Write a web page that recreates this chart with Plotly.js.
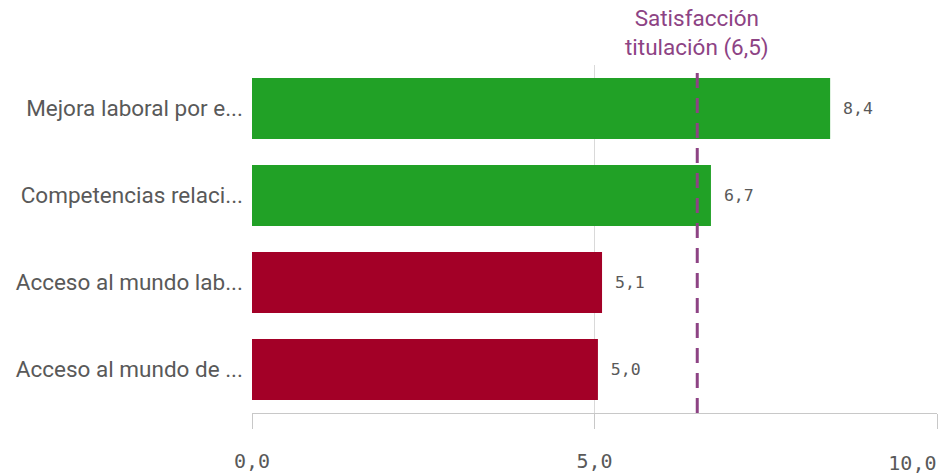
<!DOCTYPE html>
<html>
<head>
<meta charset="utf-8">
<script src="https://cdn.plot.ly/plotly-3.0.1.min.js"></script>
<style>html,body{margin:0;padding:0;background:#fff;}#chart{width:941px;height:476px;}</style>
</head>
<body>
<div id="chart"></div>
<script>
const categories = ["Mejora laboral por e...", "Competencias relaci...", "Acceso al mundo lab...", "Acceso al mundo de ..."];
const values = [8.44, 6.70, 5.11, 5.05];
const barColors = ["#21a126", "#21a126", "#a30027", "#a30027"];
const tickValues = [0, 5, 10];
const tickLabels = ["0,0", "5,0", ""];
const endTickValues = [10];
const endTickLabels = ["10,0"];
const refValue = 6.5;
const refLabel = "Satisfacción<br>titulación (6,5)";

const fmt = v => "\u00a0" + v.toFixed(1).replace(".", ",");

const trace = {
  type: "bar",
  orientation: "h",
  y: categories,
  x: values,
  marker: {color: barColors},
  width: 0.7,
  text: values.map(fmt),
  textposition: "outside",
  textfont: {family: "DejaVu Sans Mono", size: 16.5, color: "#595959"},
  cliponaxis: false,
  hoverinfo: "none"
};

const helper = {
  type: "scatter", mode: "markers",
  x: [], y: [], xaxis: "x2", yaxis: "y",
  hoverinfo: "none", showlegend: false
};

const tickFont = {family: "DejaVu Sans Mono", size: 20, color: "#595959"};

const layout = {
  width: 941, height: 476,
  margin: {l: 252, r: 4, t: 65, b: 63},
  paper_bgcolor: "#fff", plot_bgcolor: "#fff",
  showlegend: false,
  bargap: 0.3,
  xaxis: {
    range: [0, 10],
    tickvals: tickValues, ticktext: tickLabels,
    showgrid: true, gridcolor: "#d9d9d9", gridwidth: 1,
    zeroline: false,
    showline: true, linecolor: "#c8c8c8", linewidth: 1,
    ticks: "outside", ticklen: 15, tickcolor: "#c8c8c8", tickwidth: 1,
    ticklabelstandoff: 15,
    tickfont: tickFont,
    fixedrange: true
  },
  xaxis2: {
    overlaying: "x", matches: "x", side: "bottom",
    range: [0, 10],
    tickvals: endTickValues, ticktext: endTickLabels,
    ticklabelposition: "outside left",
    showgrid: false, zeroline: false, showline: false,
    ticks: "outside", ticklen: 15, tickcolor: "rgba(0,0,0,0)",
    ticklabelstandoff: 32,
    tickfont: tickFont,
    fixedrange: true
  },
  yaxis: {
    autorange: "reversed",
    showgrid: false, zeroline: false, showline: false,
    ticks: "", ticklabelstandoff: 8,
    tickfont: {family: "Roboto", size: 22.5, color: "#595959"},
    fixedrange: true
  },
  shapes: [{
    type: "line", xref: "x", yref: "paper",
    x0: refValue, x1: refValue, y0: 0, y1: 0.99,
    line: {color: "#8d4384", width: 3, dash: "15px,10px"}
  }],
  annotations: [{
    xref: "x", yref: "paper", x: refValue, y: 1,
    xanchor: "center", yanchor: "bottom", yshift: 2,
    text: refLabel, showarrow: false,
    font: {family: "Roboto", size: 22.5, color: "#8d4384"}
  }]
};

Plotly.newPlot("chart", [trace, helper], layout, {displayModeBar: false, staticPlot: true});
</script>
</body>
</html>
